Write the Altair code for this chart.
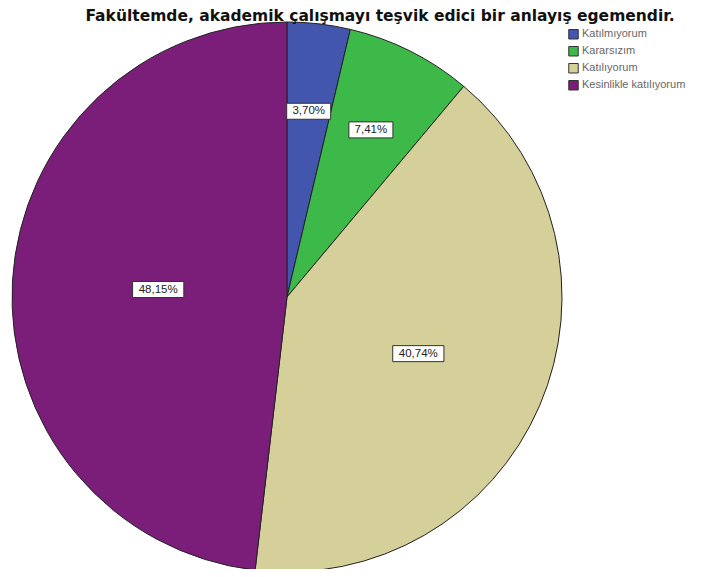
import altair as alt
import pandas as pd

categories = ["Katılmıyorum", "Kararsızım", "Katılıyorum", "Kesinlikle katılıyorum"]
values = [3.70, 7.41, 40.74, 48.15]
labels = ["3,70%", "7,41%", "40,74%", "48,15%"]
colors = ["#4356AE", "#3DB94A", "#D5CF9A", "#7A1E79"]
title_text = "Fakültemde, akademik çalışmayı teşvik edici bir anlayış egemendir."

df = pd.DataFrame({"cat": categories, "val": values, "lab": labels, "ord": list(range(4))})

CX, CY, R = 279, 289, 275

base = alt.Chart(df)

pie = base.mark_arc(stroke="#222222", strokeWidth=1).encode(
    theta=alt.Theta("val:Q", stack=True),
    order=alt.Order("ord:Q", sort="ascending"),
    color=alt.Color(
        "cat:N",
        sort=categories,
        scale=alt.Scale(domain=categories, range=colors),
        legend=alt.Legend(
            title=None, orient="none", legendX=560, legendY=18,
            symbolType="square", symbolSize=90, symbolStrokeColor="#333333",
            symbolStrokeWidth=1, labelFontSize=11, labelColor="#666666",
            labelFont="Arial", rowPadding=0, symbolOffset=0, labelOffset=3,
            clipHeight=16.5, padding=0,
        ),
    ),
    x=alt.value(CX), y=alt.value(CY),
    radius=alt.value(R),
)

pos = base.transform_window(
    cum="sum(val)", sort=[alt.SortField("ord", order="ascending")], frame=[None, 0]
).transform_joinaggregate(total="sum(val)").transform_calculate(
    ang="(datum.cum - datum.val/2) / datum.total * 2 * PI",
    rr="datum.val < 10 ? 187 : (datum.val < 45 ? 143 : 129)",
    hw="length(datum.lab) * 3.6 + 4",
).transform_calculate(
    px=f"{CX} + datum.rr * sin(datum.ang)",
    py=f"{CY} - datum.rr * cos(datum.ang)",
).transform_calculate(
    x1="datum.px - datum.hw", x2="datum.px + datum.hw",
    y1="datum.py - 8", y2="datum.py + 8",
)

boxes = pos.mark_rect(fill="white", stroke="#333333", strokeWidth=1).encode(
    x=alt.X("x1:Q", scale=None, axis=None),
    x2="x2:Q",
    y=alt.Y("y1:Q", scale=None, axis=None),
    y2="y2:Q",
)

texts = pos.mark_text(fontSize=11.5, font="Arial", color="#222222").encode(
    x=alt.X("px:Q", scale=None, axis=None),
    y=alt.Y("py:Q", scale=None, axis=None),
    text="lab:N",
)

title = alt.Chart(pd.DataFrame({"t": [title_text]})).mark_text(
    fontSize=15.5, fontWeight="bold", font="DejaVu Sans", color="#111111",
    align="center", baseline="top",
).encode(x=alt.value(372), y=alt.value(1), text="t:N")

chart = alt.layer(pie, boxes, texts, title).properties(
    width=685, height=561,
    autosize=alt.AutoSizeParams(type="none"),
    padding=0,
).configure_view(stroke=None)

chart.save("out.html", embed_options={"renderer": "svg", "actions": False})
